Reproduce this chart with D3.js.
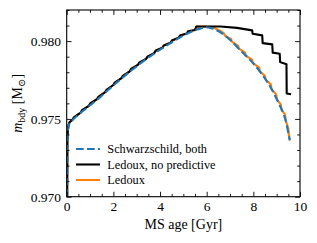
<!DOCTYPE html>
<html>
<head>
<meta charset="utf-8">
<script src="https://cdn.jsdelivr.net/npm/d3@7"></script>
<style>
  html, body { margin: 0; padding: 0; background: #fff; }
  svg { display: block; }
  text { font-family: "Liberation Serif", "DejaVu Serif", serif; fill: #000; }
</style>
</head>
<body>
<svg id="chart" width="317" height="243"></svg>
<script>
// ---------------- data ----------------
const schwT = [0.02, 0.03, 0.05, 0.08, 0.12, 0.20, 0.41, 0.84, 1.41, 1.98, 2.55, 3.12, 3.70, 4.27, 4.84, 5.42, 5.75, 5.99, 6.16, 6.40, 6.59, 7.02, 7.45, 7.88, 8.30, 8.73, 9.09, 9.38, 9.56];
const schwM = [0.9700, 0.9735, 0.9742, 0.9745, 0.97472, 0.97485, 0.97515, 0.97568, 0.97637, 0.97712, 0.97785, 0.97852, 0.97915, 0.97970, 0.98022, 0.98066, 0.98082, 0.98089, 0.98085, 0.98072, 0.98057, 0.98005, 0.97940, 0.97876, 0.97801, 0.97705, 0.97599, 0.97492, 0.97363];

const ledNoPredT = [0.02, 0.03, 0.05, 0.08, 0.12, 0.25, 0.31, 0.60, 0.66, 0.95, 1.01, 1.30, 1.36, 1.65, 1.71, 2.00, 2.06, 2.35, 2.41, 2.70, 2.76, 3.05, 3.11, 3.40, 3.46, 3.75, 3.81, 4.10, 4.16, 4.45, 4.51, 4.80, 4.86, 5.15, 5.21, 5.50, 5.56, 6.59, 7.30, 7.95, 7.97, 8.38, 8.40, 8.81, 8.83, 9.13, 9.15, 9.42, 9.43, 9.62];
const ledNoPredM = [0.9700, 0.9736, 0.9743, 0.97462, 0.97478, 0.97495, 0.97510, 0.97541, 0.97556, 0.97584, 0.97599, 0.97627, 0.97642, 0.97672, 0.97687, 0.97718, 0.97733, 0.97762, 0.97777, 0.97806, 0.97821, 0.97847, 0.97862, 0.97885, 0.97900, 0.97923, 0.97938, 0.97957, 0.97972, 0.97989, 0.98004, 0.98021, 0.98036, 0.98049, 0.98064, 0.98072, 0.98094, 0.98094, 0.98085, 0.98069, 0.98047, 0.98037, 0.97987, 0.97979, 0.97926, 0.97919, 0.97865, 0.97851, 0.97663, 0.97658];

const ledT = [0.02, 0.03, 0.05, 0.08, 0.12, 0.25, 0.31, 0.60, 0.66, 0.95, 1.01, 1.30, 1.36, 1.65, 1.71, 2.00, 2.06, 2.35, 2.41, 2.70, 2.76, 3.05, 3.11, 3.40, 3.46, 3.75, 3.81, 4.10, 4.16, 4.45, 4.51, 4.80, 4.86, 5.15, 5.21, 5.50, 5.56, 6.20, 6.59, 6.75, 6.78, 7.05, 7.08, 7.35, 7.38, 7.65, 7.68, 7.95, 7.98, 8.25, 8.28, 8.50, 8.53, 8.75, 8.78, 8.98, 9.01, 9.18, 9.21, 9.36, 9.39, 9.50, 9.52, 9.57];
const ledM = [0.9700, 0.9736, 0.9743, 0.97462, 0.97478, 0.97495, 0.97510, 0.97541, 0.97556, 0.97584, 0.97599, 0.97627, 0.97642, 0.97672, 0.97687, 0.97718, 0.97733, 0.97762, 0.97777, 0.97806, 0.97821, 0.97847, 0.97862, 0.97885, 0.97900, 0.97923, 0.97938, 0.97957, 0.97972, 0.97989, 0.98004, 0.98021, 0.98036, 0.98049, 0.98064, 0.98072, 0.98094, 0.98092, 0.98066, 0.98048, 0.98035, 0.98012, 0.97997, 0.97970, 0.97952, 0.97926, 0.97907, 0.97880, 0.97860, 0.97830, 0.97807, 0.97776, 0.97752, 0.97722, 0.97693, 0.97656, 0.97625, 0.97592, 0.97558, 0.97528, 0.97490, 0.97440, 0.97400, 0.97362];

const xMajorTicks = [0, 2, 4, 6, 8, 10];
const xTickLabels = ["0", "2", "4", "6", "8", "10"];
const yMajorTicks = [0.970, 0.975, 0.980];
const yTickLabels = ["0.970", "0.975", "0.980"];
const legendLabels = ["Schwarzschild, both", "Ledoux, no predictive", "Ledoux"];

// ---------------- layout ----------------
const L = 66.7, R = 300, T = 10, B = 196.7;
const svg = d3.select("#chart");
const x = d3.scaleLinear().domain([0, 10]).range([L, R]);
const y = d3.scaleLinear().domain([0.970, 0.982]).range([B, T]);

const xMinor = d3.range(0, 10.001, 0.5).filter(v => !xMajorTicks.includes(v));
const yMinor = d3.range(0, 13).map(i => +(0.970 + i * 0.001).toFixed(3)).filter(v => !yMajorTicks.some(m => Math.abs(m - v) < 1e-9));

const clipId = "plotclip";
svg.append("defs").append("clipPath").attr("id", clipId)
  .append("rect").attr("x", L).attr("y", T).attr("width", R - L).attr("height", B - T);

const plot = svg.append("g").attr("clip-path", `url(#${clipId})`);

const lineLin = d3.line().x(d => x(d[0])).y(d => y(d[1])).curve(d3.curveLinear);
const lineSmooth = d3.line().x(d => x(d[0])).y(d => y(d[1])).curve(d3.curveMonotoneX);

const zip = (a, b) => a.map((v, i) => [v, b[i]]);

plot.append("path").datum(zip(ledT, ledM))
  .attr("d", lineLin).attr("fill", "none").attr("stroke", "#ff7f0e")
  .attr("stroke-width", 2.1).attr("stroke-linejoin", "round");
plot.append("path").datum(zip(ledNoPredT, ledNoPredM))
  .attr("d", lineLin).attr("fill", "none").attr("stroke", "#000")
  .attr("stroke-width", 2.1).attr("stroke-linejoin", "round");
plot.append("path").datum(zip(schwT, schwM))
  .attr("d", lineSmooth).attr("fill", "none").attr("stroke", "#1f77b4")
  .attr("stroke-width", 2.1).attr("stroke-dasharray", "7.7,3.3");

// ---------------- axes ----------------
const fs = 13.5;
function styleAxis(g) {
  g.select(".domain").remove();
  g.selectAll("line").attr("stroke", "#000").attr("stroke-width", 0.9);
  g.selectAll("text").style("font-size", fs + "px").style("font-family", '"Liberation Serif", serif');
}
svg.append("g").attr("transform", `translate(0,${B})`)
  .call(d3.axisBottom(x).tickValues(xMajorTicks).tickFormat((d, i) => xTickLabels[i]).tickSize(-4.9).tickPadding(5))
  .call(styleAxis);
svg.append("g").attr("transform", `translate(0,${B})`)
  .call(d3.axisBottom(x).tickValues(xMinor).tickFormat("").tickSize(-2.8)).call(styleAxis);
svg.append("g").attr("transform", `translate(0,${T})`)
  .call(d3.axisTop(x).tickValues(xMajorTicks).tickFormat("").tickSize(-4.9)).call(styleAxis);
svg.append("g").attr("transform", `translate(0,${T})`)
  .call(d3.axisTop(x).tickValues(xMinor).tickFormat("").tickSize(-2.8)).call(styleAxis);

svg.append("g").attr("transform", `translate(${L},0)`)
  .call(d3.axisLeft(y).tickValues(yMajorTicks).tickFormat((d, i) => yTickLabels[i]).tickSize(-4.9).tickPadding(5.7))
  .call(styleAxis);
svg.append("g").attr("transform", `translate(${L},0)`)
  .call(d3.axisLeft(y).tickValues(yMinor).tickFormat("").tickSize(-2.8)).call(styleAxis);
svg.append("g").attr("transform", `translate(${R},0)`)
  .call(d3.axisRight(y).tickValues(yMajorTicks).tickFormat("").tickSize(-4.9)).call(styleAxis);
svg.append("g").attr("transform", `translate(${R},0)`)
  .call(d3.axisRight(y).tickValues(yMinor).tickFormat("").tickSize(-2.8)).call(styleAxis);

svg.append("rect").attr("x", L).attr("y", T).attr("width", R - L).attr("height", B - T)
  .attr("fill", "none").attr("stroke", "#000").attr("stroke-width", 1.1);

// ---------------- labels ----------------
svg.append("text").attr("x", (L + R) / 2).attr("y", 229).attr("text-anchor", "middle")
  .style("font-size", "14px").text("MS age [Gyr]");

const yl = svg.append("text").attr("transform", `translate(21.5,${(T + B) / 2}) rotate(-90)`)
  .attr("text-anchor", "middle").style("font-size", "14px");
yl.append("tspan").style("font-style", "italic").text("m");
yl.append("tspan").attr("dy", 3).style("font-size", "10px").text("bdy");
yl.append("tspan").attr("dy", -3).text(" [M");
yl.append("tspan").attr("dy", 3).style("font-size", "10px").text("⊙");
yl.append("tspan").attr("dy", -3).text("]");

// ---------------- legend ----------------
const legColors = ["#1f77b4", "#000", "#ff7f0e"];
const legDash = ["7.7,3.3", null, null];
const legY = [149, 164.5, 180];
const leg = svg.append("g");
legendLabels.forEach((lab, i) => {
  leg.append("line").attr("x1", 76).attr("x2", 100).attr("y1", legY[i]).attr("y2", legY[i])
    .attr("stroke", legColors[i]).attr("stroke-width", 2.1)
    .attr("stroke-dasharray", legDash[i]);
  leg.append("text").attr("x", 107.3).attr("y", legY[i]).attr("dy", "0.35em")
    .style("font-size", "12.3px").text(lab);
});
</script>
</body>
</html>
